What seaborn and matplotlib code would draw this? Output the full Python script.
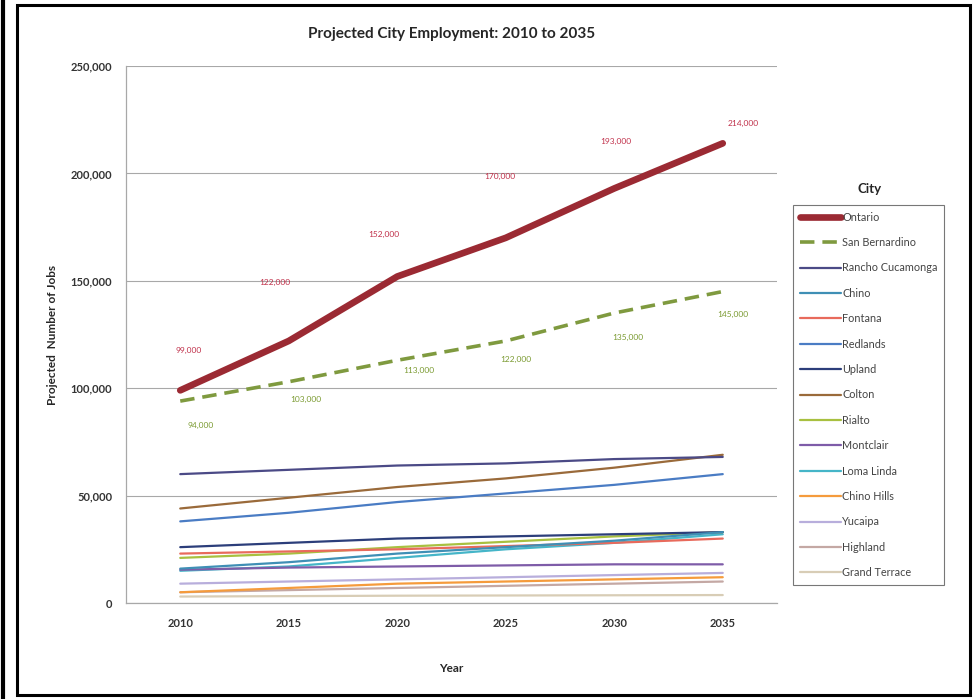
import matplotlib
matplotlib.use("Agg")
import matplotlib.pyplot as plt
from matplotlib.lines import Line2D
from matplotlib.patches import Rectangle
from matplotlib.ticker import FuncFormatter
import seaborn as sns
import pandas as pd

years = [2010, 2015, 2020, 2025, 2030, 2035]
cities = ["Ontario", "San Bernardino", "Rancho Cucamonga", "Chino", "Fontana",
          "Redlands", "Upland", "Colton", "Rialto", "Montclair", "Loma Linda",
          "Chino Hills", "Yucaipa", "Highland", "Grand Terrace"]

ontario = [99000, 122000, 152000, 170000, 193000, 214000]
san_bernardino = [94000, 103000, 113000, 122000, 135000, 145000]
rancho_cucamonga = [60000, 62000, 64000, 65000, 67000, 68000]
chino = [16000, 19000, 23000, 26000, 29000, 33000]
fontana = [23000, 24000, 25000, 26500, 28000, 30000]
redlands = [38000, 42000, 47000, 51000, 55000, 60000]
upland = [26000, 28000, 30000, 31000, 32000, 33000]
colton = [44000, 49000, 54000, 58000, 63000, 69000]
rialto = [21000, 23000, 26000, 28500, 31000, 33000]
montclair = [15500, 16500, 17000, 17500, 18000, 18000]
loma_linda = [15000, 17000, 21000, 25000, 28000, 32000]
chino_hills = [5000, 7000, 9000, 10000, 11000, 12000]
yucaipa = [9000, 10000, 11000, 12000, 13000, 14000]
highland = [5000, 6000, 7000, 8000, 9000, 10000]
grand_terrace = [3000, 3200, 3400, 3500, 3600, 3700]

series = [ontario, san_bernardino, rancho_cucamonga, chino, fontana, redlands,
          upland, colton, rialto, montclair, loma_linda, chino_hills, yucaipa,
          highland, grand_terrace]

colors = ["#9B2A33", "#7F9A3F", "#4B4A86", "#3F8FB5", "#E86A5C", "#4A7CC4",
          "#2C3E7A", "#9A6A3A", "#A8C040", "#7E5CA8", "#45B5C8", "#F59B3C",
          "#B8AEDC", "#C4A8A4", "#D8CDB6"]
widths = [4.8, 2.6] + [1.6] * 13

rows = []
for c, vals in zip(cities, series):
    for y, v in zip(years, vals):
        rows.append({"Year": y, "City": c, "Jobs": v})
df = pd.DataFrame(rows)

sns.set_style("white")
plt.rcParams["font.family"] = ["Lato", "DejaVu Sans"]

fig = plt.figure(figsize=(9.75, 6.99), dpi=100)
ax = fig.add_axes([126 / 975, 1 - 603 / 699, (777 - 126) / 975, (603 - 66) / 699])

palette = dict(zip(cities, colors))
sizes = dict(zip(cities, widths))
dashes = {c: "" for c in cities}
dashes["San Bernardino"] = (4, 2.2)

ax.yaxis.grid(True, color="#A8A8A8", linewidth=0.8, zorder=0)
ax.set_axisbelow(True)

order_draw = cities[::-1]
sns.lineplot(data=df, x="Year", y="Jobs", hue="City", size="City", style="City",
             palette=palette, sizes=sizes, dashes=dashes, hue_order=order_draw,
             size_order=order_draw, style_order=order_draw, legend=False,
             ax=ax, solid_capstyle="round")

# data labels
ont_off = [(8, 40), (-14, 58), (-13, 42), (-6, 61), (2, 47), (20, 20)]
sb_off = [(20, -24), (17, -18), (22, -10), (10, -19), (14, -24), (10, -23)]
for (y, v), off in zip(zip(years, ontario), ont_off):
    ax.annotate(f"{v:,}", (y, v), xytext=off, textcoords="offset pixels",
                ha="center", va="center", fontsize=6, color="#C0304A")
for (y, v), off in zip(zip(years, san_bernardino), sb_off):
    ax.annotate(f"{v:,}", (y, v), xytext=off, textcoords="offset pixels",
                ha="center", va="center", fontsize=6, color="#7A9A30")

ax.set_xlim(2007.5, 2037.5)
ax.set_ylim(0, 250000)
ax.set_xticks(years)
ax.set_yticks(range(0, 250001, 50000))
ax.yaxis.set_major_formatter(FuncFormatter(lambda v, p: f"{int(v):,}"))
ax.tick_params(axis="y", which="major", length=4, color="#A8A8A8", labelsize=8,
               pad=6)
ax.tick_params(axis="x", length=0, labelsize=8, pad=11)
for lab in ax.get_xticklabels() + ax.get_yticklabels():
    lab.set_fontweight("bold")
    lab.set_color("#333333")
for s in ["top", "right"]:
    ax.spines[s].set_visible(False)
for s in ["left", "bottom"]:
    ax.spines[s].set_color("#A8A8A8")
    ax.spines[s].set_linewidth(0.9)

ax.set_xlabel("Year", fontsize=8.5, fontweight="bold", labelpad=24)
ax.set_ylabel("Projected  Number of Jobs", fontsize=8.5, fontweight="bold", labelpad=9)
ax.set_title("Projected City Employment: 2010 to 2035", fontsize=11, fontweight="bold",
             pad=20)

handles = [Line2D([0], [0], color=palette[c], lw=sizes[c],
                  linestyle=(0, dashes[c]) if dashes[c] else "-") for c in cities]
leg = fig.legend(handles, cities, loc="upper left", bbox_to_anchor=(793 / 975, 1 - 205 / 699),
                 frameon=True, fancybox=False, fontsize=7.8, handlelength=3.8,
                 handletextpad=0.15, labelspacing=1.33, borderpad=0.6,
                 borderaxespad=0)
leg.get_frame().set_edgecolor("#555555")
leg.get_frame().set_linewidth(0.8)
for t in leg.get_texts():
    t.set_color("#444444")
fig.text(870 / 975, 1 - 189 / 699, "City", ha="center", va="center", fontsize=9.5,
         fontweight="bold")

# outer frames
fig.patches.append(Rectangle((17 / 975, 4 / 699), (970 - 17) / 975, (694 - 4) / 699,
                             transform=fig.transFigure, fill=False, edgecolor="black",
                             linewidth=2.2))
fig.add_artist(Line2D([3 / 975, 3 / 975], [0, 1], transform=fig.transFigure,
                      color="black", linewidth=3))

fig.savefig("out.png", dpi=100)
